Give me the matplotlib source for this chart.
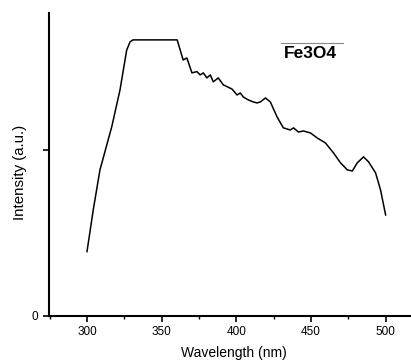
import numpy as np
import matplotlib.pyplot as plt
from matplotlib.ticker import MultipleLocator

plt.rcParams['font.family'] = ['Liberation Sans', 'DejaVu Sans']

# Fe3O4 spectrum
wavelength = [300, 304.2, 308.7, 316.6, 322.1, 326.6, 328.9, 330.9, 360.4,
              364.4, 366.9, 370.3, 373.6, 375.8, 377.9, 380.3, 382.6, 384.6, 387.9,
              391.3, 397.1, 400.5, 402.7, 404.7, 408.1, 411.4, 413.9, 416.1, 419.5,
              422.8, 427.3, 431.5, 436.2, 438.3, 441.6, 445.0, 449.7, 454.2, 459.7,
              465.1, 469.8, 474.3, 477.7, 481.0, 485.2, 488.6, 493.3, 496.6, 500.0]
intensity = [0.387, 0.639, 0.880, 1.140, 1.361, 1.602, 1.652, 1.663, 1.663,
             1.542, 1.554, 1.464, 1.472, 1.452, 1.464, 1.434, 1.452, 1.410, 1.434,
             1.392, 1.367, 1.331, 1.343, 1.319, 1.301, 1.289, 1.283, 1.289, 1.313,
             1.289, 1.199, 1.133, 1.120, 1.133, 1.108, 1.114, 1.102, 1.072, 1.042,
             0.982, 0.922, 0.880, 0.873, 0.922, 0.958, 0.928, 0.861, 0.759, 0.608]
xticks = [300, 350, 400, 450, 500]

fig = plt.figure(figsize=(4.11, 3.61), dpi=100)
ax = fig.add_axes([0.119, 0.125, 0.881, 0.839])

ax.plot(wavelength, intensity, color='black', lw=1.1)

ax.set_xlim(274.5, 517)
ax.set_ylim(0, 1.825)
ax.set_xticks(xticks)
ax.xaxis.set_minor_locator(MultipleLocator(25))
ax.set_yticks([0, 1])
ax.set_yticklabels(['0', ''])
ax.tick_params(axis='both', which='major', labelsize=8.5, width=1.2, length=4, direction='out')
ax.tick_params(axis='x', which='minor', width=1.0, length=2.5, direction='out')

for s in ['top', 'right']:
    ax.spines[s].set_visible(False)
for s in ['left', 'bottom']:
    ax.spines[s].set_linewidth(1.5)

ax.set_xlabel('Wavelength (nm)', fontsize=10)
ax.set_ylabel('Intensity (a.u.)', fontsize=10.8)
ax.xaxis.set_label_coords(0.511, -0.099)
ax.yaxis.set_label_coords(-0.061, 0.475)

# label with overline, like a legend box edge
ax.text(0.648, 0.865, 'Fe3O4', transform=ax.transAxes, fontsize=12.5,
        fontweight='bold', ha='left', va='center')
ax.plot([0.641, 0.811], [0.900, 0.900], transform=ax.transAxes,
        color='#888888', lw=0.8, clip_on=False)

fig.savefig('out.png', dpi=100)
